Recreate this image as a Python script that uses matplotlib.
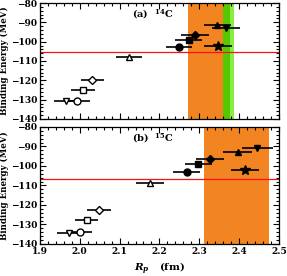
import numpy as np
import matplotlib
matplotlib.use('Agg')
import matplotlib.pyplot as plt
from matplotlib.ticker import MultipleLocator

plt.rcParams['font.family'] = ['DejaVu Serif']
plt.rcParams['font.weight'] = 'bold'
plt.rcParams['mathtext.fontset'] = 'dejavuserif'

# marker order: open (v, o, s, D, ^) then filled (o, s, D, ^, v, *)
markers = ['v', 'o', 's', 'D', '^', 'o', 's', 'D', '^', 'v', '*']
filled = [False] * 5 + [True] * 6

# panel (a) 14C
r_a = [1.965, 1.994, 2.009, 2.032, 2.124, 2.250, 2.273, 2.290, 2.345, 2.366, 2.348]
e_a = [-130.6, -130.6, -125.1, -120.0, -107.8, -102.9, -99.2, -96.4, -91.3, -93.0, -102.0]
err_a = [0.03, 0.032, 0.03, 0.03, 0.032, 0.033, 0.035, 0.035, 0.034, 0.035, 0.035]
exp_a = -105.28
band_a = (2.272, 2.359)
green_a = (2.359, 2.386)
green_a_dark = (2.359, 2.376)

# panel (b) 15C
r_b = [1.973, 2.000, 2.017, 2.048, 2.176, 2.268, 2.298, 2.327, 2.396, 2.446, 2.415]
e_b = [-134.5, -133.6, -127.9, -122.4, -108.7, -103.0, -99.1, -96.5, -92.7, -90.7, -102.2]
err_b = [0.03, 0.032, 0.03, 0.03, 0.035, 0.035, 0.035, 0.035, 0.036, 0.038, 0.036]
exp_b = -106.5
band_b = (2.312, 2.475)

fig = plt.figure(figsize=(2.87, 2.76), dpi=100)
ax1 = fig.add_axes([0.139, 0.569, 0.833, 0.420])
ax2 = fig.add_axes([0.139, 0.116, 0.833, 0.424])


def draw(ax, r, e, err, exp, band, label):
    ax.axvspan(band[0], band[1], color='#F28522', lw=0, zorder=0)
    ax.axhline(exp, color='#FF1010', lw=0.9, zorder=1)
    for i in range(len(r)):
        ms = 7 if markers[i] == '*' else 5
        if markers[i] == 'D':
            ms = 4.5
        ax.errorbar(r[i], e[i], xerr=err[i], fmt=markers[i], color='black',
                    mfc='black' if filled[i] else 'white', mec='black',
                    mew=1.0, ms=ms, elinewidth=1.2, capsize=0, zorder=3)
    ax.set_xlim(1.9, 2.5)
    ax.set_ylim(-140, -80)
    ax.xaxis.set_major_locator(MultipleLocator(0.1))
    ax.xaxis.set_minor_locator(MultipleLocator(0.02))
    ax.yaxis.set_major_locator(MultipleLocator(10))
    ax.yaxis.set_minor_locator(MultipleLocator(2))
    ax.tick_params(which='both', direction='in', top=True, right=True,
                   labelsize=6.5, width=0.8, pad=2)
    ax.tick_params(which='major', length=4)
    ax.tick_params(which='minor', length=2)
    for s in ax.spines.values():
        s.set_linewidth(0.9)
    ax.set_ylabel('Binding Energy (MeV)', fontsize=6.2, fontweight='bold', labelpad=1)
    ax.text(0.387, 0.90, label, transform=ax.transAxes, fontsize=7,
            fontweight='bold', va='center')


draw(ax1, r_a, e_a, err_a, exp_a, band_a, r'(a)  $\mathbf{^{14}}$C')
ax1.axvspan(green_a[0], green_a[1], color='#88EE44', lw=0, zorder=0.5)
ax1.axvspan(green_a_dark[0], green_a_dark[1], color='#55C800', lw=0, zorder=0.6)
ax1.tick_params(labelbottom=False)

draw(ax2, r_b, e_b, err_b, exp_b, band_b, r'(b)  $\mathbf{^{15}}$C')
ax2.set_xlabel(r'$\boldsymbol{R_p}$   (fm)', fontsize=7.5, fontweight='bold', labelpad=4)

fig.savefig('out.png', dpi=100)
